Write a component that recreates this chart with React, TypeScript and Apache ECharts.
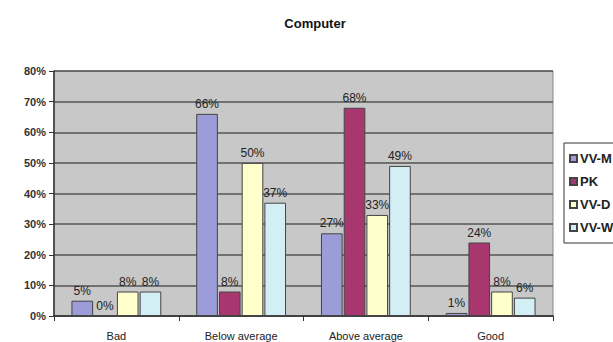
import React, { useEffect, useRef } from "react";
import * as echarts from "echarts";

const categories = ["Bad", "Below average", "Above average", "Good"];
const seriesNames = ["VV-M", "PK", "VV-D", "VV-W"];
const vvM = [5, 66, 27, 1];
const pk = [0, 8, 68, 24];
const vvD = [8, 50, 33, 8];
const vvW = [8, 37, 49, 6];
const yTicks = [0, 10, 20, 30, 40, 50, 60, 70, 80];

const colors = ["#9c9cd8", "#a8376f", "#ffffcc", "#d4eef6"];

export default function App() {
  const ref = useRef<HTMLDivElement>(null);
  useEffect(() => {
    document.body.style.margin = "0";
    if (!ref.current) return;
    const chart = echarts.init(ref.current, undefined, { renderer: "svg" });
    const data = [vvM, pk, vvD, vvW];
    chart.setOption({
      animation: false,
      backgroundColor: "#ffffff",
      textStyle: { fontFamily: "Liberation Sans, Arial, sans-serif" },
      title: {
        text: "Computer",
        left: 310,
        textAlign: "center",
        top: 12,
        textStyle: { fontSize: 13, fontWeight: "bold", color: "#111" },
      },
      legend: {
        orient: "vertical",
        left: 564,
        top: 143,
        data: seriesNames,
        itemWidth: 7,
        itemHeight: 7,
        itemGap: 10,
        padding: [9, 6, 9, 5],
        borderColor: "#333",
        borderWidth: 1,
        backgroundColor: "#fff",
        textStyle: { fontSize: 13, fontWeight: "bold", color: "#222", padding: [0, 0, 0, -2] },
        icon: "rect",
      },
      grid: {
        left: 54,
        top: 71,
        right: 60,
        bottom: 26,
        show: true,
        backgroundColor: "#c8c8c8",
        borderColor: "#888",
        borderWidth: 1,
      },
      xAxis: {
        type: "category",
        data: categories,
        axisLine: { lineStyle: { color: "#333", width: 1.5 } },
        axisTick: { show: true, length: 5, lineStyle: { color: "#333" } },
        axisLabel: { fontSize: 11, color: "#222", margin: 14 },
      },
      yAxis: {
        type: "value",
        min: yTicks[0],
        max: yTicks[yTicks.length - 1],
        interval: 10,
        axisLine: { show: true, lineStyle: { color: "#333", width: 1.5 } },
        axisTick: { show: true, length: 5, lineStyle: { color: "#333" } },
        axisLabel: { fontSize: 11, fontWeight: "bold", color: "#333", formatter: "{value}%", margin: 8 },
        splitLine: { show: true, lineStyle: { color: "#555", width: 1.5 } },
      },
      series: seriesNames.map((name, i) => ({
        name,
        type: "bar",
        data: data[i],
        barGap: "5%",
        barCategoryGap: "28%",
        itemStyle: { color: colors[i], borderColor: "#444", borderWidth: 1 },
        label: {
          show: true,
          position: "top",
          formatter: "{c}%",
          fontSize: 12,
          color: "#222",
          distance: 4,
        },
      })),
    });
    return () => chart.dispose();
  }, []);
  return <div ref={ref} style={{ width: 613, height: 342 }} />;
}
